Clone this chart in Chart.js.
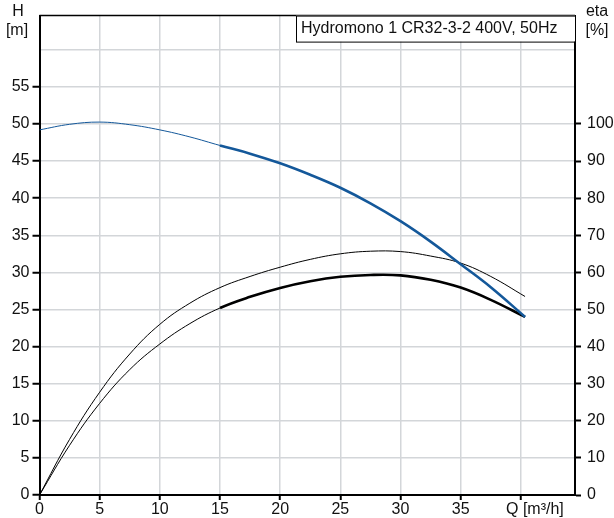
<!DOCTYPE html>
<html>
<head>
<meta charset="utf-8">
<script src="https://cdn.jsdelivr.net/npm/chart.js@4/dist/chart.umd.min.js"></script>
<style>
  html, body { margin: 0; padding: 0; background: #fff; }
  #wrap { width: 614px; height: 518px; }
</style>
</head>
<body>
<div id="wrap"><canvas id="grafica-curva"></canvas></div>
<script>
// Flow Q [m3/h]
const caudal = [0, 2.5, 5, 7.5, 10, 12.5, 15, 17.5, 20, 22.5, 25, 27.5, 30, 32.5, 35, 37.5, 40.35];
// Head H [m]
const altura = [49.2, 49.95, 50.25, 49.9, 49.2, 48.25, 47.1, 46.0, 44.7, 43.15, 41.4, 39.3, 36.9, 34.15, 31.1, 28.0, 24.0];
// eta [%] (thin curve, upper)
const etaSuperior = [0, 15.0, 27.7, 38.0, 46.0, 51.7, 55.9, 58.9, 61.4, 63.5, 65.0, 65.7, 65.6, 64.4, 62.5, 58.9, 53.5];
// eta [%] (lower curve, thick in operating range)
const etaInferior = [0, 13.4, 24.7, 33.8, 40.7, 46.2, 50.4, 53.4, 55.8, 57.6, 58.8, 59.3, 59.2, 58.0, 55.9, 52.6, 48.0];

const ticksH = [0, 5, 10, 15, 20, 25, 30, 35, 40, 45, 50, 55];
const ticksEta = [0, 10, 20, 30, 40, 50, 60, 70, 80, 90, 100];
const ticksQ = [0, 5, 10, 15, 20, 25, 30, 35];

const titulo = 'Hydromono 1 CR32-3-2 400V, 50Hz';
const inicioOperacion = 15;

const FUENTE = '"Liberation Sans", Arial, sans-serif';
const GRIS = '#d3d6d9';

const puntos = arr => arr.map((v, i) => ({ x: caudal[i], y: v }));
const grosor = (fino, grueso) => ctx => ctx.p0.parsed.x >= inicioOperacion - 0.01 ? grueso : fino;

// Draws the frame top, the title box and the axis titles
const decoracion = {
  id: 'decoracion',
  afterDraw(chart) {
    const { ctx, chartArea } = chart;
    ctx.save();
    ctx.strokeStyle = '#000';
    ctx.lineWidth = 1.5;
    ctx.beginPath();
    ctx.moveTo(chartArea.left, chartArea.top);
    ctx.lineTo(chartArea.right, chartArea.top);
    ctx.stroke();

    const bx = chartArea.right - 279;
    ctx.fillStyle = '#fff';
    ctx.fillRect(bx, chartArea.top, 279, 26);
    ctx.lineWidth = 1;
    ctx.strokeRect(bx + 0.5, chartArea.top + 0.5, 279, 26);

    ctx.fillStyle = '#111';
    ctx.font = '16px ' + FUENTE;
    ctx.textBaseline = 'middle';
    ctx.textAlign = 'left';
    ctx.fillText(titulo, bx + 5, chartArea.top + 13);

    ctx.textAlign = 'center';
    ctx.fillText('H', 18, 12);
    ctx.fillText('[m]', 17, 31);
    ctx.fillText('eta', 597, 12);
    ctx.fillText('[%]', 597, 31);

    ctx.textAlign = 'left';
    ctx.textBaseline = 'top';
    ctx.fillText('Q [m\u00b3/h]', 506, 502);
    ctx.restore();
  }
};

new Chart(document.getElementById('grafica-curva').getContext('2d'), {
  type: 'line',
  data: {
    datasets: [{
      label: 'H',
      data: puntos(altura),
      yAxisID: 'y',
      borderColor: '#14589a',
      borderWidth: 1,
      segment: { borderWidth: grosor(1, 2.6) },
      pointRadius: 0,
      tension: 0.4
    }, {
      label: 'eta',
      data: puntos(etaSuperior),
      yAxisID: 'y2',
      borderColor: '#000',
      borderWidth: 1,
      pointRadius: 0,
      tension: 0.4
    }, {
      label: 'eta',
      data: puntos(etaInferior),
      yAxisID: 'y2',
      borderColor: '#000',
      borderWidth: 1,
      segment: { borderWidth: grosor(1, 2.6) },
      pointRadius: 0,
      tension: 0.4
    }]
  },
  options: {
    responsive: true,
    maintainAspectRatio: false,
    animation: false,
    layout: { padding: { top: 14, left: 0, right: 0, bottom: 0 } },
    plugins: {
      legend: { display: false },
      tooltip: { enabled: false }
    },
    scales: {
      x: {
        type: 'linear',
        min: 0,
        max: 44.5,
        afterBuildTicks: s => { s.ticks = ticksQ.concat([40]).map(v => ({ value: v })); },
        afterFit: s => { s.height = 23; },
        ticks: {
          callback: v => (v === 40 ? '' : v),
          color: '#111',
          font: { family: FUENTE, size: 16 },
          padding: 0,
          maxRotation: 0
        },
        grid: { color: GRIS, lineWidth: 1.5, tickLength: 5, tickColor: '#000', tickWidth: 2 },
        border: { color: '#000', width: 2 }
      },
      y: {
        position: 'left',
        min: 0,
        max: 64.6,
        afterBuildTicks: s => { s.ticks = ticksH.concat([60]).map(v => ({ value: v })); },
        afterFit: s => { s.width = 39.5; },
        ticks: {
          callback: v => (v > 55 ? '' : v),
          color: '#111',
          font: { family: FUENTE, size: 16 },
          padding: 3
        },
        grid: {
          color: GRIS,
          lineWidth: 1.5,
          tickLength: 7,
          tickColor: c => (c.tick && c.tick.value > 55 ? 'rgba(0,0,0,0)' : '#000'),
          tickWidth: 2
        },
        border: { color: '#000', width: 2 }
      },
      y2: {
        position: 'right',
        min: 0,
        max: 129.2,
        afterBuildTicks: s => { s.ticks = ticksEta.map(v => ({ value: v })); },
        afterFit: s => { s.width = 39; },
        ticks: {
          color: '#111',
          font: { family: FUENTE, size: 16 },
          padding: 6
        },
        grid: { drawOnChartArea: false, tickLength: 6, tickColor: '#000', tickWidth: 2 },
        border: { color: '#000', width: 2 }
      }
    }
  },
  plugins: [decoracion]
});
</script>
</body>
</html>
